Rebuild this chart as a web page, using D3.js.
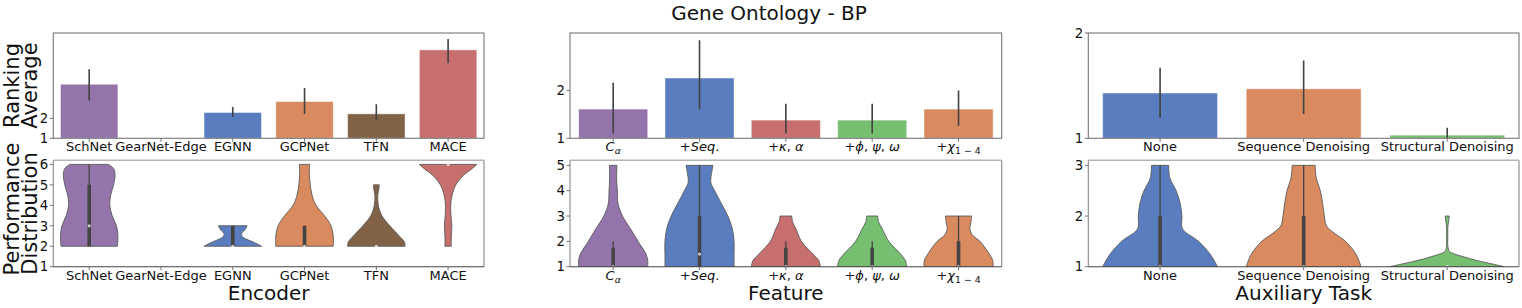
<!DOCTYPE html>
<html>
<head>
<meta charset="utf-8">
<script src="https://cdn.jsdelivr.net/npm/d3@7"></script>
<style>
  body { margin: 0; background: #fff; }
  svg { display: block; font-family: "DejaVu Sans", sans-serif; }
</style>
</head>
<body>
<svg id="chart" width="1522" height="308"></svg>
<script>
// --- Dados: Encoder ---
const encoders = ['SchNet', 'GearNet-Edge', 'EGNN', 'GCPNet', 'TFN', 'MACE'];
const encoderMean = [3.72, null, 2.30, 2.85, 2.23, 5.45];
const encoderLo = [2.90, null, 2.07, 2.22, 1.93, 4.78];
const encoderHi = [4.47, null, 2.58, 3.53, 2.72, 6.00];
// perfil do violino: [valor, largura relativa]
const encoderViolins = [
  [[2, 0.98], [2.5, 1.0], [3, 0.95], [3.5, 0.8], [4, 0.72], [4.5, 0.75], [5, 0.85], [5.5, 0.9], [5.8, 0.85], [6, 0.67]],
  null,
  [[2, 1.0], [2.15, 0.8], [2.3, 0.55], [2.45, 0.35], [2.6, 0.3], [2.8, 0.42], [3, 0.5]],
  [[2, 1.0], [2.5, 1.0], [3, 0.92], [3.5, 0.69], [4, 0.4], [4.5, 0.26], [5, 0.2], [5.5, 0.17], [6, 0.18]],
  [[2, 1.0], [2.2, 0.98], [2.5, 0.8], [3, 0.47], [3.5, 0.19], [4, 0.07], [4.5, 0.05], [4.8, 0.09], [5, 0.1]],
  [[2, 0.11], [2.5, 0.11], [3, 0.13], [3.5, 0.1], [4, 0.09], [4.5, 0.14], [5, 0.27], [5.5, 0.56], [5.75, 0.8], [6, 1.0]]
];
// [whisker baixo, q1, mediana, q3, whisker alto]
const encoderBoxes = [[2, 2, 3, 5, 6], null, [2, 2, 2, 3, 3], [2, 2, 2, 3, 3], [2, 2, 2, 2, 2], [6, 6, 6, 6, 6]];

// --- Dados: Feature ---
const features = ['C_{α}', '+Seq.', '+κ, α', '+ϕ, ψ, ω', '+χ_{1 − 4}'];
const featureMean = [1.61, 2.26, 1.38, 1.38, 1.61];
const featureLo = [1.10, 1.60, 1.10, 1.10, 1.26];
const featureHi = [2.16, 3.05, 1.72, 1.72, 2.00];
const featureViolins = [
  [[1, 1.0], [1.25, 1.0], [1.5, 0.95], [2, 0.72], [2.5, 0.5], [3, 0.27], [3.5, 0.14], [4, 0.12], [4.5, 0.1], [5, 0.11]],
  [[1, 1.0], [1.5, 1.0], [2, 1.0], [2.5, 0.95], [3, 0.82], [3.5, 0.63], [4, 0.44], [4.3, 0.33], [4.5, 0.33], [5, 0.39]],
  [[1, 1.0], [1.25, 0.95], [1.5, 0.78], [2, 0.45], [2.5, 0.29], [2.75, 0.2], [3, 0.17]],
  [[1, 1.0], [1.25, 0.96], [1.5, 0.82], [2, 0.48], [2.5, 0.29], [2.75, 0.19], [3, 0.16]],
  [[1, 1.0], [1.25, 0.99], [1.5, 0.89], [2, 0.62], [2.25, 0.4], [2.5, 0.33], [2.75, 0.36], [3, 0.38]]
];
const featureBoxes = [[1, 1, 1, 1.75, 2], [1, 1, 1.5, 3, 5], [1, 1, 1, 1.75, 2], [1, 1, 1, 1.75, 2], [1, 1, 1, 2, 3]];

// --- Dados: Auxiliary Task ---
const tasks = ['None', 'Sequence Denoising', 'Structural Denoising'];
const taskMean = [1.43, 1.47, 1.03];
const taskLo = [1.195, 1.23, 1.0];
const taskHi = [1.67, 1.74, 1.10];
const taskViolins = [
  [[1, 1.0], [1.25, 0.87], [1.5, 0.67], [1.75, 0.39], [2, 0.38], [2.25, 0.35], [2.5, 0.28], [2.75, 0.17], [3, 0.15]],
  [[1, 1.0], [1.25, 0.91], [1.5, 0.73], [1.65, 0.55], [1.8, 0.4], [2, 0.36], [2.25, 0.33], [2.5, 0.29], [2.75, 0.22], [3, 0.2]],
  [[1, 1.0], [1.05, 0.8], [1.1, 0.6], [1.15, 0.42], [1.2, 0.27], [1.25, 0.13], [1.3, 0.04], [1.4, 0.012], [1.6, 0.01], [1.8, 0.012], [1.9, 0.025], [2, 0.035]]
];
const taskBoxes = [[1, 1, 1, 2, 3], [1, 1, 1, 2, 3], [1, 1, 1, 1, 1]];

// Paleta (seaborn muted dessaturada)
const purple = '#9475ab', blue = '#597dbf', orange = '#d98b5f',
      green = '#76bf71', red = '#c76e6e', brown = '#826246';

const panels = [
  { x0: 53.3, x1: 484, cats: encoders, mean: encoderMean, lo: encoderLo, hi: encoderHi,
    violins: encoderViolins, boxes: encoderBoxes,
    colors: [purple, null, blue, orange, brown, red],
    topMax: 6.3, topTicks: [1, 2], botMax: 6.2, botTicks: [1, 2, 3, 4, 5, 6], xlabel: 'Encoder' },
  { x0: 570, x1: 1001.7, cats: features, mean: featureMean, lo: featureLo, hi: featureHi,
    violins: featureViolins, boxes: featureBoxes,
    colors: [purple, blue, red, green, orange],
    topMax: 3.2, topTicks: [1, 2], botMax: 5.2, botTicks: [1, 2, 3, 4, 5], xlabel: 'Feature' },
  { x0: 1088.3, x1: 1519, cats: tasks, mean: taskMean, lo: taskLo, hi: taskHi,
    violins: taskViolins, boxes: taskBoxes,
    colors: [blue, orange, green],
    topMax: 2, topTicks: [1, 2], botMax: 3.1, botTicks: [1, 2, 3], xlabel: 'Auxiliary Task' }
];

const TOP = [33, 138.3];
const BOT = [160.3, 266.7];
const svg = d3.select('#chart');

// Rótulo com "mathtext": letras em itálico, _{...} vira subscrito
function mathLabel(textSel, label) {
  const parts = label.split(/_\{([^}]*)\}/);
  parts.forEach((part, k) => {
    if (!part) return;
    if (k % 2 === 1) {
      textSel.append('tspan')
        .attr('font-size', 9.3).attr('dy', 3)
        .style('font-style', /[A-Za-zα-ωϕ]/.test(part) ? 'italic' : 'normal')
        .text(part);
      return;
    }
    // junta caracteres consecutivos com o mesmo estilo
    const runs = [];
    for (const ch of part) {
      const it = /[A-Za-zα-ωϕψ]/.test(ch);
      if (runs.length && runs[runs.length - 1].it === it) runs[runs.length - 1].t += ch;
      else runs.push({ t: ch, it });
    }
    runs.forEach(r => {
      textSel.append('tspan')
        .style('font-style', r.it ? 'italic' : 'normal')
        .text(r.t.replace(/ /g, '\u00a0'));
    });
  });
}

function drawXTicks(g, x, yBase, cats, isMath) {
  cats.forEach(c => {
    const cx = x(c) + x.bandwidth() / 2;
    g.append('line').attr('x1', cx).attr('x2', cx).attr('y1', yBase).attr('y2', yBase + 3.5)
      .attr('stroke', '#666').attr('stroke-width', 0.9);
    const t = g.append('text').attr('x', cx).attr('y', yBase + 13)
      .attr('text-anchor', 'middle').attr('font-size', 13).attr('fill', '#111');
    if (isMath) mathLabel(t, c); else t.text(c);
  });
}

function drawYTicks(g, x0, y, ticks) {
  ticks.forEach(v => {
    g.append('line').attr('x1', x0 - 3.5).attr('x2', x0).attr('y1', y(v)).attr('y2', y(v))
      .attr('stroke', '#666').attr('stroke-width', 0.9);
    g.append('text').attr('x', x0 - 5).attr('y', y(v)).attr('dy', '0.36em')
      .attr('text-anchor', 'end').attr('font-size', 13.3).attr('fill', '#111').text(v);
  });
}

panels.forEach((p, pi) => {
  const x = d3.scaleBand().domain(p.cats).range([p.x0, p.x1]).padding(0);
  const bw = x.bandwidth();
  const yTop = d3.scaleLinear().domain([1, p.topMax]).range([TOP[1], TOP[0]]);
  const yBot = d3.scaleLinear().domain([1, p.botMax]).range([BOT[1], BOT[0]]);
  const isMath = pi === 1;

  // clip
  svg.append('clipPath').attr('id', 'clipTop' + pi).append('rect')
    .attr('x', p.x0).attr('y', TOP[0]).attr('width', p.x1 - p.x0).attr('height', TOP[1] - TOP[0]);
  svg.append('clipPath').attr('id', 'clipBot' + pi).append('rect')
    .attr('x', p.x0).attr('y', BOT[0]).attr('width', p.x1 - p.x0).attr('height', BOT[1] - BOT[0]);

  // --- Barras ---
  const gTop = svg.append('g').attr('clip-path', `url(#clipTop${pi})`);
  p.cats.forEach((c, i) => {
    if (p.mean[i] == null) return;
    const cx = x(c) + bw / 2;
    gTop.append('rect')
      .attr('x', cx - bw * 0.4).attr('width', bw * 0.8)
      .attr('y', yTop(p.mean[i])).attr('height', yTop(1) - yTop(p.mean[i]))
      .attr('fill', p.colors[i]).attr('stroke', '#fff').attr('stroke-opacity', 0.45).attr('stroke-width', 1);
    gTop.append('line')
      .attr('x1', cx).attr('x2', cx).attr('y1', yTop(p.lo[i])).attr('y2', yTop(p.hi[i]))
      .attr('stroke', '#424242').attr('stroke-width', 1.6);
  });
  svg.append('rect').attr('x', p.x0).attr('y', TOP[0]).attr('width', p.x1 - p.x0).attr('height', TOP[1] - TOP[0])
    .attr('fill', 'none').attr('stroke', '#777').attr('stroke-width', 1.1);
  drawXTicks(svg.append('g'), x, TOP[1], p.cats, isMath);
  drawYTicks(svg.append('g'), p.x0, yTop, p.topTicks);

  // --- Violinos ---
  const gBot = svg.append('g').attr('clip-path', `url(#clipBot${pi})`);
  p.cats.forEach((c, i) => {
    const prof = p.violins[i];
    if (!prof) return;
    const cx = x(c) + bw / 2;
    const hw = bw * 0.4;
    const area = d3.area()
      .curve(d3.curveCatmullRom.alpha(0.5))
      .y(d => yBot(d[0]))
      .x0(d => cx - d[1] * hw)
      .x1(d => cx + d[1] * hw);
    gBot.append('path').attr('d', area(prof))
      .attr('fill', p.colors[i]).attr('stroke', '#5a5a5a').attr('stroke-width', 0.9);
    const b = p.boxes[i];
    if (b[4] > b[0]) {
      gBot.append('line').attr('x1', cx).attr('x2', cx).attr('y1', yBot(b[0])).attr('y2', yBot(b[4]))
        .attr('stroke', '#444').attr('stroke-width', 1.3);
    }
    if (b[3] > b[1]) {
      gBot.append('line').attr('x1', cx).attr('x2', cx).attr('y1', yBot(b[1])).attr('y2', yBot(b[3]))
        .attr('stroke', '#444').attr('stroke-width', 3.6);
    }
    gBot.append('circle').attr('cx', cx).attr('cy', yBot(b[2])).attr('r', 1.6)
      .attr('fill', '#fff').attr('fill-opacity', 0.7);
  });
  // caixa do eixo inferior
  const gb = svg.append('g').attr('fill', 'none');
  gb.append('line').attr('x1', p.x0).attr('x2', p.x1).attr('y1', BOT[0]).attr('y2', BOT[0])
    .attr('stroke', '#b5b5b5').attr('stroke-width', 1.6);
  gb.append('line').attr('x1', p.x1).attr('x2', p.x1).attr('y1', BOT[0]).attr('y2', BOT[1])
    .attr('stroke', '#999').attr('stroke-width', 1.3);
  gb.append('line').attr('x1', p.x0).attr('x2', p.x0).attr('y1', BOT[0]).attr('y2', BOT[1])
    .attr('stroke', '#888').attr('stroke-width', 1.1);
  gb.append('line').attr('x1', p.x0).attr('x2', p.x1).attr('y1', BOT[1]).attr('y2', BOT[1])
    .attr('stroke', '#444').attr('stroke-width', 1.1);
  drawXTicks(svg.append('g'), x, BOT[1], p.cats, isMath);
  drawYTicks(svg.append('g'), p.x0, yBot, p.botTicks);

  // rótulo do eixo x
  svg.append('text').attr('x', (p.x0 + p.x1) / 2).attr('y', 300)
    .attr('text-anchor', 'middle').attr('font-size', 20).attr('fill', '#111').text(p.xlabel);
});

// --- Rótulos do eixo y ---
const yLabels = [
  { text: 'Ranking', x: 19, y: 85.5 },
  { text: 'Average', x: 37, y: 85.5 },
  { text: 'Performance', x: 19, y: 209 },
  { text: 'Distribution', x: 37, y: 213.5 }
];
yLabels.forEach(l => {
  svg.append('text').attr('transform', `translate(${l.x},${l.y}) rotate(-90)`)
    .attr('text-anchor', 'middle').attr('font-size', 21).attr('fill', '#111').text(l.text);
});

// --- Título ---
svg.append('text').attr('x', 769).attr('y', 20).attr('text-anchor', 'middle')
  .attr('font-size', 20).attr('fill', '#111').text('Gene Ontology - BP');
</script>
</body>
</html>
